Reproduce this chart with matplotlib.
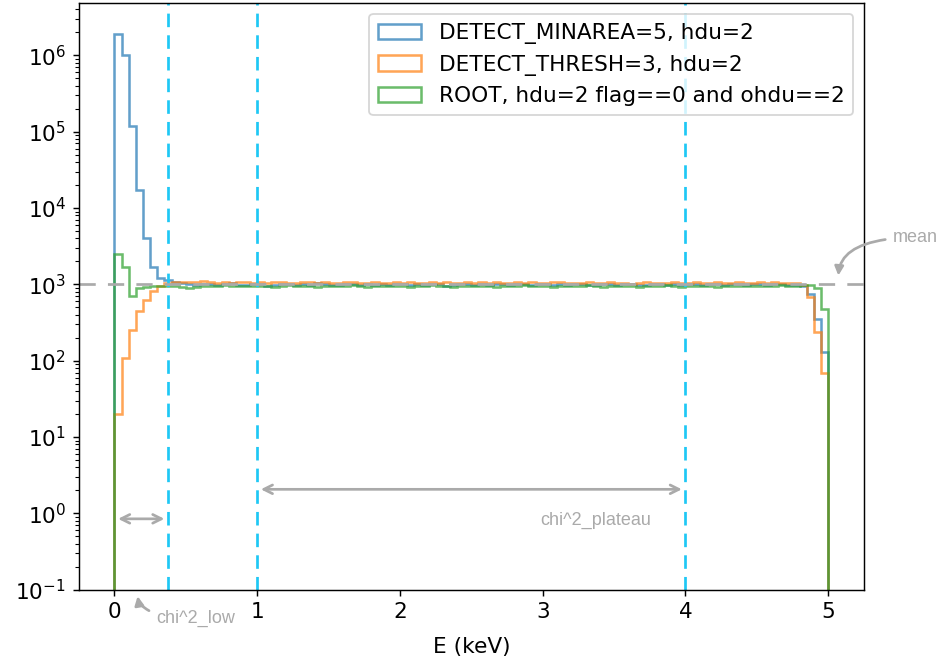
import numpy as np
import matplotlib
matplotlib.use("Agg")
from matplotlib import pyplot as plt

# bin edges in keV, 0.05 keV bins
edges = np.linspace(0, 5, 101)
centers = 0.5 * (edges[:-1] + edges[1:])

minarea = [1900000, 1000000, 120000, 17000, 4100, 1700, 1200, 1150, 1080, 1040,
           1010, 990, 1020, 1000, 970, 1010, 1030, 990, 980, 1000,
           1010, 960, 990, 1020, 1000, 980, 1010, 990, 1030, 1000,
           970, 990, 1010, 1000, 980, 1020, 990, 1000, 970, 1010,
           1000, 990, 1020, 980, 1000, 1010, 960, 990, 1000, 1020,
           990, 1000, 980, 1010, 1000, 970, 1000, 1020, 990, 1000,
           1010, 980, 1000, 990, 1020, 1000, 970, 990, 1010, 1000,
           980, 1000, 1010, 990, 970, 1000, 1020, 990, 1000, 980,
           1010, 1000, 990, 1020, 1000, 980, 1000, 1010, 990, 1000,
           1020, 990, 1000, 1010, 980, 990, 960, 740, 350, 130]

thresh = [20, 110, 250, 450, 630, 810, 960, 1050, 1080, 1060,
          1090, 1060, 1100, 1070, 1050, 1080, 1040, 1060, 1090, 1050,
          1070, 1040, 1060, 1080, 1050, 1030, 1070, 1060, 1040, 1080,
          1050, 1030, 1060, 1070, 1040, 1050, 1080, 1030, 1050, 1060,
          1040, 1070, 1050, 1030, 1060, 1040, 1080, 1050, 1030, 1060,
          1050, 1070, 1040, 1060, 1030, 1050, 1070, 1040, 1060, 1050,
          1030, 1060, 1080, 1040, 1050, 1030, 1060, 1050, 1040, 1070,
          1050, 1030, 1020, 1040, 1060, 1030, 1050, 1040, 1070, 1050,
          1030, 1060, 1040, 1050, 1080, 1040, 1030, 1060, 1050, 1040,
          1060, 1050, 1070, 1040, 1050, 1030, 980, 680, 240, 70]

root = [2500, 1700, 700, 900, 920, 950, 940, 960, 950, 930,
        910, 920, 950, 960, 940, 970, 950, 940, 960, 950,
        940, 960, 930, 950, 970, 940, 950, 960, 930, 950,
        960, 940, 950, 970, 940, 930, 960, 950, 940, 960,
        950, 930, 960, 940, 970, 950, 940, 930, 960, 950,
        940, 960, 950, 930, 940, 960, 950, 970, 940, 950,
        960, 930, 950, 940, 960, 950, 970, 940, 930, 950,
        960, 940, 950, 930, 960, 950, 940, 970, 950, 930,
        940, 960, 950, 940, 930, 950, 960, 940, 950, 960,
        940, 950, 960, 970, 950, 960, 980, 990, 890, 480]

labels = ["DETECT_MINAREA=5, hdu=2", "DETECT_THRESH=3, hdu=2",
          "ROOT, hdu=2 flag==0 and ohdu==2"]
mean = 1000
cuts = [0.375, 1, 4]

plt.rcParams["font.size"] = 12

fig = plt.figure(figsize=(938 / 130, 659 / 130), dpi=130)
ax = fig.add_axes([0.084, 0.105, 0.837, 0.89])

for vals, lab in zip([minarea, thresh, root], labels):
    ax.hist(centers, bins=edges, weights=vals, histtype="step", log=True,
            alpha=0.7, lw=1.4, label=lab)

for c in cuts:
    ax.axvline(c, color="#1ec8f5", lw=1.5, ls=(0, (5, 3)))
ax.axhline(mean, color="#aaaaaa", lw=1.5, ls=(0, (6, 4.5)))

ax.set_xlim(-0.25, 5.25)
ax.set_ylim(0.1, 4.8e6)
ax.set_xlabel("E (keV)", labelpad=8)
ax.legend(loc="upper right")

gray = "#aaaaaa"
afont = dict(color=gray, fontsize=10, family="Liberation Sans")
ax.annotate("", xy=(0, 0.85), xytext=(cuts[0], 0.85),
            arrowprops=dict(arrowstyle="<->", color=gray, lw=1.5))
ax.annotate("", xy=(cuts[1], 2.07), xytext=(cuts[2], 2.07),
            arrowprops=dict(arrowstyle="<->", color=gray, lw=1.5))
ax.text(3.37, 0.82, "chi^2_plateau", ha="center", va="center", **afont)
ax.annotate("mean", xy=(5.07, 1170), xytext=(5.45, 4100), va="center",
            annotation_clip=False,
            arrowprops=dict(arrowstyle="-|>", color=gray, lw=1.5,
                            connectionstyle="angle3,angleA=0,angleB=90"),
            **afont)
ax.annotate("chi^2_low", xy=(0.16, 0.092), xytext=(0.29, 0.042), va="center",
            annotation_clip=False,
            arrowprops=dict(arrowstyle="-|>", color=gray, lw=1.5,
                            connectionstyle="angle3,angleA=0,angleB=90"),
            **afont)

fig.savefig("out.png", dpi=130)
